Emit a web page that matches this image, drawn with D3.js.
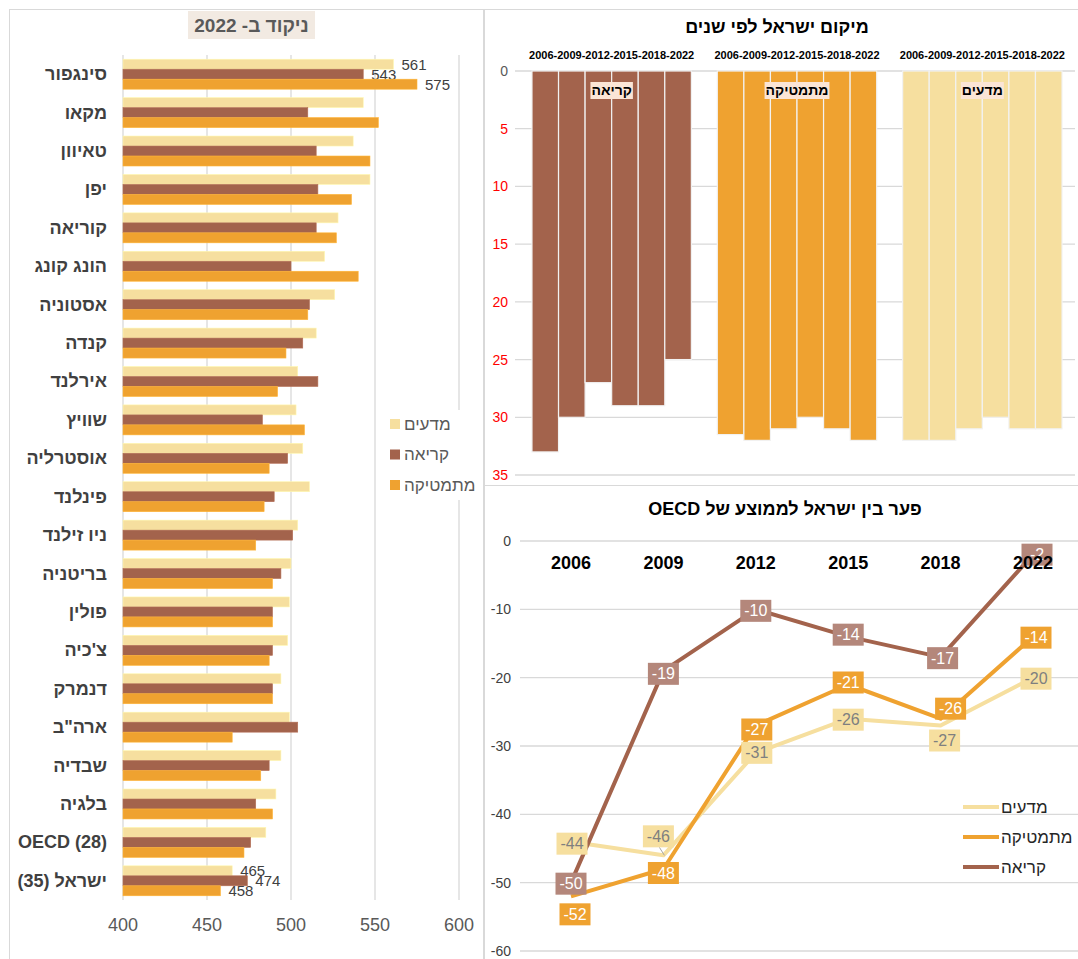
<!DOCTYPE html>
<html lang="he">
<head>
<meta charset="utf-8">
<script src="https://cdn.jsdelivr.net/npm/d3@7"></script>
<style>
  body { margin: 0; background: #fff; }
  svg { display: block; font-family: 'Liberation Sans', Arial, sans-serif; }
</style>
</head>
<body>
<script>
// ---- data: scores 2022 ----
const countries = ['סינגפור', 'מקאו', 'טאיוון', 'יפן', 'קוריאה', 'הונג קונג', 'אסטוניה', 'קנדה', 'אירלנד', 'שוויץ', 'אוסטרליה',
  'פינלנד', 'ניו זילנד', 'בריטניה', 'פולין', "צ'כיה", 'דנמרק', 'ארה"ב', 'שבדיה', 'בלגיה', 'OECD (28)', 'ישראל (35)']
const scoreScience = [561, 543, 537, 547, 528, 520, 526, 515, 504, 503, 507, 511, 504, 500, 499, 498, 494, 499, 494, 491, 485, 465]
const scoreReading = [543, 510, 515, 516, 515, 500, 511, 507, 516, 483, 498, 490, 501, 494, 489, 489, 489, 504, 487, 479, 476, 474]
const scoreMath = [575, 552, 547, 536, 527, 540, 510, 497, 492, 508, 487, 484, 479, 489, 489, 487, 489, 465, 482, 489, 472, 458]
const scoreTicks = [400, 450, 500, 550, 600]
const labelledCountries = ['סינגפור', 'ישראל (35)']

// ---- data: Israel rank by year ----
const rankYears = ['2006', '2009', '2012', '2015', '2018', '2022']
const rankSubjects = ['קריאה', 'מתמטיקה', 'מדעים']
const rankReading = [33, 30, 27, 29, 29, 25]
const rankMath = [31.5, 32, 31, 30, 31, 32]
const rankScience = [32, 32, 31, 30, 31, 31]
const rankTicks = [0, 5, 10, 15, 20, 25, 30, 35]

// ---- data: gap from OECD average ----
const gapYears = ['2006', '2009', '2012', '2015', '2018', '2022']
const gapScience = [-44, -46, -31, -26, -27, -20]
const gapMath = [-52, -48, -27, -21, -26, -14]
const gapReading = [-50, -19, -10, -14, -17, -2]
const gapTicks = [0, -10, -20, -30, -40, -50, -60]

const colors = {
  science: '#F6DF9F',
  reading: '#A3634C',
  math: '#EFA230'
}
const gridColor = '#d9d9d9'

const svg = d3.select('body').append('svg')
  .attr('width', 1078)
  .attr('height', 959)

// panel frames
svg.append('rect').attr('x', 9.5).attr('y', 9.5).attr('width', 474).attr('height', 960)
  .attr('fill', 'none').attr('stroke', gridColor)
svg.append('rect').attr('x', 484.5).attr('y', 9.5).attr('width', 600).attr('height', 476)
  .attr('fill', 'none').attr('stroke', gridColor)
svg.append('rect').attr('x', 484.5).attr('y', 485.5).attr('width', 600).attr('height', 480)
  .attr('fill', 'none').attr('stroke', gridColor)

// ================= left: scores 2022 =================
function drawScores () {
  const g = svg.append('g')
  const x = d3.scaleLinear().domain([400, 600]).range([123, 459])
  const y = d3.scaleBand().domain(countries).range([55, 900]).paddingInner(0.22).paddingOuter(0.11)
  const sub = d3.scaleBand().domain(['science', 'reading', 'math']).range([0, y.bandwidth()])

  g.selectAll('.grid').data(scoreTicks).join('line')
    .attr('x1', (d) => x(d)).attr('x2', (d) => x(d))
    .attr('y1', 55).attr('y2', 900)
    .attr('stroke', gridColor).attr('stroke-width', 1.3)

  g.selectAll('.tick').data(scoreTicks).join('text')
    .attr('x', (d) => x(d)).attr('y', 925)
    .attr('text-anchor', 'middle').attr('dominant-baseline', 'central')
    .attr('fill', '#595959').style('font-size', '18px')
    .text((d) => d)

  const rows = countries.map((c, i) => ({
    name: c,
    science: scoreScience[i],
    reading: scoreReading[i],
    math: scoreMath[i]
  }))

  const row = g.selectAll('.row').data(rows).join('g')
    .attr('transform', (d) => `translate(0, ${y(d.name)})`)

  ;['science', 'reading', 'math'].forEach((k) => {
    row.append('rect')
      .attr('x', x(400))
      .attr('y', sub(k))
      .attr('width', (d) => x(d[k]) - x(400))
      .attr('height', sub.bandwidth())
      .attr('fill', colors[k])
      .attr('stroke', d3.color(colors[k]).brighter(0.3))
      .attr('stroke-width', 0.6)

    row.filter((d) => labelledCountries.includes(d.name))
      .append('text')
      .attr('x', (d) => x(d[k]) + 8)
      .attr('y', sub(k) + sub.bandwidth() / 2)
      .attr('dominant-baseline', 'central')
      .attr('fill', '#404040').style('font-size', '15px')
      .text((d) => d[k])
  })

  row.append('text')
    .attr('x', 107)
    .attr('y', y.bandwidth() / 2)
    .attr('direction', 'rtl')
    .attr('text-anchor', 'start')
    .attr('dominant-baseline', 'central')
    .attr('fill', '#404040')
    .style('font-size', '18px').style('font-weight', 'bold')
    .text((d) => d.name)

  // title
  g.append('rect').attr('x', 188).attr('y', 11).attr('width', 127).attr('height', 28).attr('fill', '#F2EAE2')
  g.append('text').attr('x', 251.5).attr('y', 25.5)
    .attr('direction', 'rtl').attr('text-anchor', 'middle').attr('dominant-baseline', 'central')
    .attr('fill', '#595959').style('font-size', '19px').style('font-weight', 'bold')
    .text('ניקוד ב- 2022')

  // legend
  const legendItems = [['מדעים', 'science'], ['קריאה', 'reading'], ['מתמטיקה', 'math']]
  const lg = g.append('g')
  lg.append('rect').attr('x', 386).attr('y', 410).attr('width', 96).attr('height', 90).attr('fill', '#fff')
  const li = lg.selectAll('g').data(legendItems).join('g')
    .attr('transform', (d, i) => `translate(390, ${424 + i * 30.5})`)
  li.append('rect').attr('x', 0).attr('y', -5).attr('width', 10).attr('height', 10).attr('fill', (d) => colors[d[1]])
  li.append('text').attr('x', 404).attr('transform', 'translate(-390,0)')
    .attr('direction', 'rtl').attr('text-anchor', 'end').attr('dominant-baseline', 'central')
    .attr('fill', '#595959').style('font-size', '17px')
    .text((d) => d[0])
}

// ================= right top: rank by year =================
function drawRanks () {
  const g = svg.append('g')
  const x = d3.scaleBand().domain(rankSubjects).range([519, 1075]).paddingInner(0.14).paddingOuter(0.07)
  const xYear = d3.scaleBand().domain(rankYears).range([0, x.bandwidth()])
  const y = d3.scaleLinear().domain([0, 35]).range([71, 475])
  const seriesBySubject = {
    'קריאה': { values: rankReading, color: colors.reading },
    'מתמטיקה': { values: rankMath, color: colors.math },
    'מדעים': { values: rankScience, color: colors.science }
  }

  g.selectAll('.grid').data(rankTicks).join('line')
    .attr('x1', 515).attr('x2', 1075)
    .attr('y1', (d) => y(d)).attr('y2', (d) => y(d))
    .attr('stroke', gridColor).attr('stroke-width', 1.3)

  g.selectAll('.tick').data(rankTicks).join('text')
    .attr('x', 508).attr('y', (d) => y(d))
    .attr('text-anchor', 'end').attr('dominant-baseline', 'central')
    .attr('fill', (d) => d === 0 ? '#595959' : '#FF0000')
    .style('font-size', '14px')
    .text((d) => d)

  const grp = g.selectAll('.grp').data(rankSubjects).join('g')
    .attr('transform', (d) => `translate(${x(d)}, 0)`)

  grp.selectAll('rect').data((s) => rankYears.map((yr, i) => ({ year: yr, v: seriesBySubject[s].values[i], color: seriesBySubject[s].color })))
    .join('rect')
    .attr('x', (d) => xYear(d.year))
    .attr('y', y(0))
    .attr('width', xYear.bandwidth())
    .attr('height', (d) => y(d.v) - y(0))
    .attr('fill', (d) => d.color)
    .attr('stroke', '#f2f2f2')
    .attr('stroke-width', 1.2)

  grp.append('text')
    .attr('x', x.bandwidth() / 2).attr('y', 55)
    .attr('text-anchor', 'middle').attr('dominant-baseline', 'central')
    .attr('fill', '#000').style('font-size', '11px').style('font-weight', 'bold')
    .text(rankYears.join('-'))

  grp.each(function (s) {
    const gg = d3.select(this)
    const t = gg.append('text')
      .attr('x', x.bandwidth() / 2).attr('y', 90)
      .attr('direction', 'rtl').attr('text-anchor', 'middle').attr('dominant-baseline', 'central')
      .attr('fill', '#000').style('font-size', '14px').style('font-weight', 'bold')
      .text(s)
    const bb = t.node().getBBox()
    gg.insert('rect', 'text:last-of-type')
      .attr('x', bb.x - 1).attr('y', 82).attr('width', bb.width + 2).attr('height', 17)
      .attr('fill', '#FBE5D6')
  })

  g.append('text').attr('x', 777).attr('y', 27)
    .attr('direction', 'rtl').attr('text-anchor', 'middle').attr('dominant-baseline', 'central')
    .attr('fill', '#000').style('font-size', '18px').style('font-weight', 'bold')
    .text('מיקום ישראל לפי שנים')
}

// ================= right bottom: gap from OECD =================
function drawGap () {
  const g = svg.append('g')
  const x = d3.scalePoint().domain(gapYears).range([571, 1033])
  const y = d3.scaleLinear().domain([-60, 0]).range([951, 541])

  const series = [
    { name: 'מדעים', values: gapScience, color: colors.science, box: colors.science, text: '#7F7F7F',
      offsets: [[1, 2], [-5, -19], [1, 0], [0, 1], [4, 15], [3, 1]] },
    { name: 'מתמטיקה', values: gapMath, color: colors.math, box: colors.math, text: '#fff',
      offsets: [[4, 18], [0, 4], [1, 4], [0, -2], [10, -10], [3, 1]] },
    { name: 'קריאה', values: gapReading, color: colors.reading, box: '#B4877B', text: '#fff',
      offsets: [[0, 1], [0, 3], [0, 1.5], [0, -2], [2, 1], [4, 0]] }
  ]

  g.selectAll('.grid').data(gapTicks).join('line')
    .attr('x1', 520).attr('x2', 1078)
    .attr('y1', (d) => y(d)).attr('y2', (d) => y(d))
    .attr('stroke', gridColor).attr('stroke-width', 1.3)

  g.selectAll('.tick').data(gapTicks).join('text')
    .attr('x', 511).attr('y', (d) => y(d))
    .attr('text-anchor', 'end').attr('dominant-baseline', 'central')
    .attr('fill', '#404040').style('font-size', '14px')
    .text((d) => d)

  const line = d3.line().x((d) => x(d.year)).y((d) => y(d.v))
  series.forEach((s) => {
    s.points = gapYears.map((yr, i) => ({ year: yr, v: s.values[i], off: s.offsets[i] }))
    g.append('path').datum(s.points)
      .attr('d', line)
      .attr('fill', 'none')
      .attr('stroke', s.color)
      .attr('stroke-width', 4)
      .attr('stroke-linejoin', 'round')
  })

  // leader line for science 2009 label
  const sci09 = series[0].points[1]
  g.append('line')
    .attr('x1', x(sci09.year) - 4).attr('y1', y(sci09.v) + sci09.off[1] + 11)
    .attr('x2', x(sci09.year) + 1).attr('y2', y(sci09.v))
    .attr('stroke', '#a6a6a6').attr('stroke-width', 1)

  series.forEach((s) => {
    const lab = g.selectAll(null).data(s.points).join('g')
      .attr('transform', (d) => `translate(${x(d.year) + d.off[0]}, ${y(d.v) + d.off[1]})`)
    lab.append('rect')
      .attr('x', -15.5).attr('y', -11).attr('width', 31).attr('height', 22)
      .attr('fill', s.box)
    lab.append('text')
      .attr('text-anchor', 'middle').attr('dominant-baseline', 'central')
      .attr('fill', s.text).style('font-size', '16px')
      .text((d) => d.v)
  })

  // category labels sit on top of the data labels
  g.selectAll('.year').data(gapYears).join('text')
    .attr('x', (d) => x(d)).attr('y', 563)
    .attr('text-anchor', 'middle').attr('dominant-baseline', 'central')
    .attr('fill', '#000').style('font-size', '18px').style('font-weight', 'bold')
    .text((d) => d)

  // legend
  const li = g.selectAll('.leg').data(series).join('g')
    .attr('transform', (d, i) => `translate(0, ${807 + i * 30})`)
  li.append('line').attr('x1', 963).attr('x2', 999).attr('y1', 0).attr('y2', 0)
    .attr('stroke', (d) => d.color).attr('stroke-width', 4)
  li.append('text').attr('x', 1001).attr('y', 0)
    .attr('direction', 'rtl').attr('text-anchor', 'end').attr('dominant-baseline', 'central')
    .attr('fill', '#262626').style('font-size', '17px')
    .text((d) => d.name)

  g.append('text').attr('x', 785).attr('y', 509)
    .attr('direction', 'rtl').attr('text-anchor', 'middle').attr('dominant-baseline', 'central')
    .attr('fill', '#000').style('font-size', '18px').style('font-weight', 'bold')
    .text('פער בין ישראל לממוצע של OECD')
}

drawScores()
drawRanks()
drawGap()
</script>
</body>
</html>
